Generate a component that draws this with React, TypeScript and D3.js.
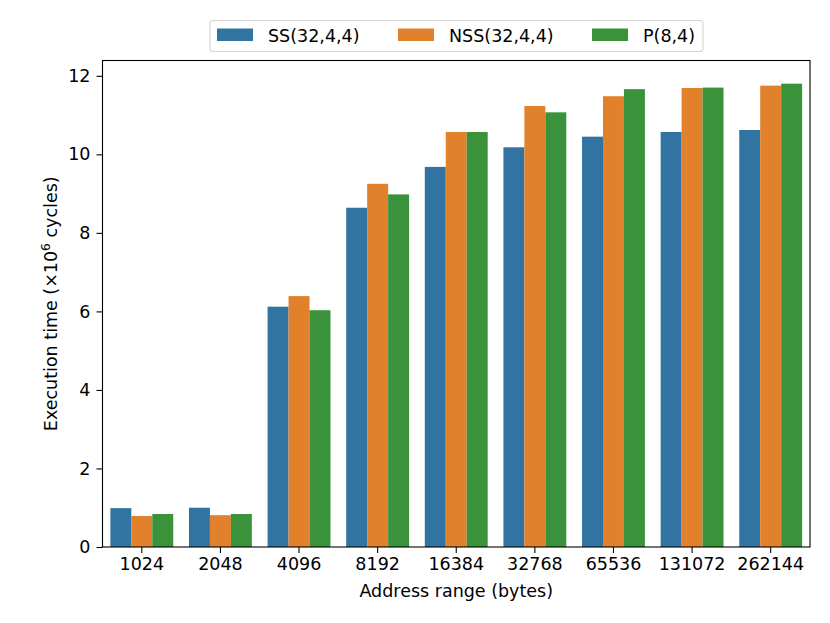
import React, { useEffect, useRef } from 'react';
import * as d3 from 'd3';

const categories = ['1024', '2048', '4096', '8192', '16384', '32768', '65536', '131072', '262144'];
const seriesNames = ['SS(32,4,4)', 'NSS(32,4,4)', 'P(8,4)'];
const seriesColors = ['#3274a1', '#e1812c', '#3a923a'];
const ssValues = [0.99, 1.0, 6.12, 8.64, 9.68, 10.18, 10.45, 10.57, 10.62];
const nssValues = [0.79, 0.81, 6.39, 9.25, 10.57, 11.23, 11.48, 11.69, 11.75];
const pValues = [0.84, 0.84, 6.03, 8.98, 10.57, 11.07, 11.66, 11.7, 11.8];
const yTicks = [0, 2, 4, 6, 8, 10, 12];

const Chart: React.FC = () => {
  const svgRef = useRef<SVGSVGElement>(null);

  useEffect(() => {
    const width = 830;
    const height = 623;
    const left = 102.5;
    const right = 810;
    const top = 60.5;
    const bottom = 547;
    const font = 'DejaVu Sans, sans-serif';
    const fs = 17.5;

    const svg = d3.select(svgRef.current)
      .attr('width', width)
      .attr('height', height);
    svg.selectAll('*').remove();

    const allSeries = [ssValues, nssValues, pValues];

    const x = d3.scaleBand<string>()
      .domain(categories)
      .range([left, right])
      .padding(0);

    const inner = d3.scaleBand<number>()
      .domain([0, 1, 2])
      .range([x.bandwidth() * 0.1, x.bandwidth() * 0.9])
      .padding(0);

    const y = d3.scaleLinear()
      .domain([0, 12.39])
      .range([bottom, top]);

    // bars
    allSeries.forEach((vals, si) => {
      svg.append('g')
        .selectAll('rect')
        .data(vals)
        .enter()
        .append('rect')
        .attr('x', (d, i) => (x(categories[i]) as number) + (inner(si) as number))
        .attr('y', d => y(d))
        .attr('width', inner.bandwidth())
        .attr('height', d => y(0) - y(d))
        .attr('fill', seriesColors[si]);
    });

    // frame
    svg.append('rect')
      .attr('x', left)
      .attr('y', top)
      .attr('width', right - left)
      .attr('height', bottom - top)
      .attr('fill', 'none')
      .attr('stroke', '#000')
      .attr('stroke-width', 1.1);

    // x axis
    const xAxis = svg.append('g')
      .attr('transform', `translate(0,${bottom})`)
      .call(d3.axisBottom(x).tickSize(6).tickPadding(5));
    xAxis.select('.domain').remove();
    xAxis.selectAll('line').attr('stroke', '#000').attr('stroke-width', 1.1);
    xAxis.selectAll('text')
      .attr('font-family', font)
      .attr('font-size', fs)
      .attr('fill', '#000');

    // y axis
    const yAxis = svg.append('g')
      .attr('transform', `translate(${left},0)`)
      .call(d3.axisLeft(y).tickValues(yTicks).tickSize(6).tickPadding(6).tickFormat(d3.format('d')));
    yAxis.select('.domain').remove();
    yAxis.selectAll('line').attr('stroke', '#000').attr('stroke-width', 1.1);
    yAxis.selectAll('text')
      .attr('font-family', font)
      .attr('font-size', fs)
      .attr('fill', '#000');

    // axis labels
    svg.append('text')
      .attr('x', (left + right) / 2)
      .attr('y', 597)
      .attr('text-anchor', 'middle')
      .attr('font-family', font)
      .attr('font-size', fs)
      .text('Address range (bytes)');

    const yl = svg.append('text')
      .attr('transform', `translate(57,${(top + bottom) / 2}) rotate(-90)`)
      .attr('text-anchor', 'middle')
      .attr('font-family', font)
      .attr('font-size', fs);
    yl.append('tspan').text('Execution time (×10');
    yl.append('tspan').attr('font-size', fs * 0.7).attr('dy', -7).text('6');
    yl.append('tspan').attr('dy', 7).text(' cycles)');

    // legend
    const legend = svg.append('g');
    legend.append('rect')
      .attr('x', 210)
      .attr('y', 20.5)
      .attr('width', 493)
      .attr('height', 31)
      .attr('rx', 3)
      .attr('fill', '#fff')
      .attr('fill-opacity', 0.8)
      .attr('stroke', '#d5d5d5')
      .attr('stroke-width', 1.1);
    const patchX = [217, 398, 592];
    seriesNames.forEach((name, i) => {
      legend.append('rect')
        .attr('x', patchX[i])
        .attr('y', 28.5)
        .attr('width', 36)
        .attr('height', 12.5)
        .attr('fill', seriesColors[i]);
      legend.append('text')
        .attr('x', patchX[i] + 51)
        .attr('y', 41.5)
        .attr('font-family', font)
        .attr('font-size', fs)
        .text(name);
    });
  }, []);

  return <svg ref={svgRef} style={{ position: 'absolute', left: 0, top: 0 }}></svg>;
};

const App: React.FC = () => {
  return <Chart />;
};

export default App;
